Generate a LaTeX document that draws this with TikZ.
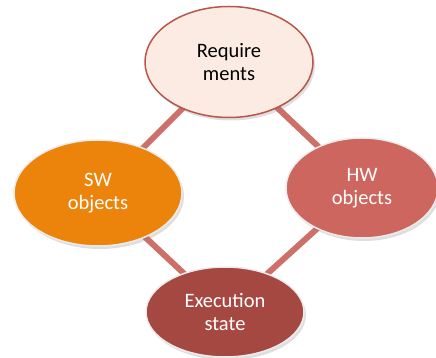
\documentclass[tikz,border=0pt]{standalone}
\usepackage{fontspec}
\setmainfont{Carlito}
\usetikzlibrary{shapes.geometric,shadows,backgrounds}

\definecolor{reqfill}{RGB}{252,235,226}
\definecolor{reqborder}{RGB}{185,85,75}
\definecolor{swfill}{RGB}{236,132,12}
\definecolor{hwfill}{RGB}{206,102,96}
\definecolor{execfill}{RGB}{166,72,66}
\definecolor{linkcol}{RGB}{206,112,106}

\begin{document}
\begin{tikzpicture}[
    x=1pt, y=1pt,
    bubble/.style={ellipse, inner sep=0pt, align=center, font=\fontsize{20.5}{23.5}\selectfont,
        drop shadow={opacity=0.25, shadow xshift=2pt, shadow yshift=-3pt}},
    lightbubble/.style={bubble, draw=reqborder, line width=1.5pt, fill=reqfill, text=black},
    darkbubble/.style={bubble, draw=white!85!gray, line width=1.5pt, text=white},
    link/.style={line width=6pt, linkcol}
]
\useasboundingbox (0,0) rectangle (436,358);

% Ellipses
\node[lightbubble, minimum width=168, minimum height=111] (req) at (229,296) {Require\\ments};
\node[darkbubble, fill=swfill, minimum width=168, minimum height=106] (sw) at (98,165) {SW\\objects};
\node[darkbubble, fill=hwfill, minimum width=152, minimum height=100] (hw) at (362,170) {HW\\objects};
\node[darkbubble, fill=execfill, minimum width=158, minimum height=90] (exec) at (225,46) {Execution\\state};

% Links
\begin{scope}[on background layer]
\draw[link] (req.center) -- (sw.center);
\draw[link] (req.center) -- (hw.center);
\draw[link] (sw.center) -- (exec.center);
\draw[link] (hw.center) -- (exec.center);
\end{scope}

\end{tikzpicture}
\end{document}
